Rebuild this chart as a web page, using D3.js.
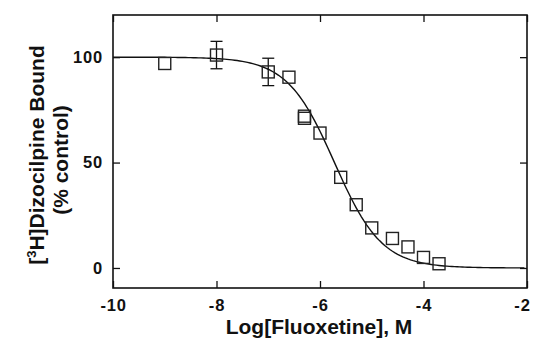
<!DOCTYPE html>
<html>
<head>
<meta charset="utf-8">
<script src="https://cdn.jsdelivr.net/npm/d3@7"></script>
<style>
  body { margin: 0; background: #fff; }
  svg text { font-family: "Liberation Sans", Arial, sans-serif; font-weight: bold; fill: #111; }
</style>
</head>
<body>
<svg width="533" height="345"></svg>
<script>
// Data
const logConc = [-9, -8, -7, -6.6, -6.3, -6.3, -6, -5.6, -5.3, -5, -4.6, -4.3, -4, -3.7];
const bound   = [97, 101, 93, 90.5, 72, 71, 64, 43, 30, 19, 14, 10, 5, 2];
const errBar  = [0, 6.5, 6.5, 0, 0, 0, 0, 0, 0, 0, 0, 0, 0, 0];

const xTicks = [-10, -8, -6, -4, -2];
const yTicks = [0, 50, 100];

// fitted curve params (one-site competition)
const fitTop = 100, fitBottom = 0, fitLogIC50 = -5.72, fitHill = 0.95;

const svg = d3.select("svg");

const x = d3.scaleLinear().domain([-10, -2]).range([113, 527]);
const y = d3.scaleLinear().domain([-9.5, 120]).range([288, 15]);

// frame
svg.append("rect")
    .attr("x", 113).attr("y", 15)
    .attr("width", 527 - 113).attr("height", 288 - 15)
    .attr("fill", "none").attr("stroke", "#111").attr("stroke-width", 1.6);

// axes (ticks point inward)
const fmt = d => d;
const xAx = svg.append("g")
    .attr("transform", "translate(0,288)")
    .call(d3.axisBottom(x).tickValues(xTicks).tickSizeInner(-7).tickSizeOuter(0).tickPadding(11).tickFormat(fmt))
    .call(g => g.select(".domain").remove());
svg.append("g")
    .attr("transform", "translate(0,15)")
    .call(d3.axisTop(x).tickValues(xTicks).tickSizeInner(-7).tickSizeOuter(0).tickFormat(""))
    .call(g => g.select(".domain").remove());
svg.append("g")
    .attr("transform", "translate(113,0)")
    .call(d3.axisLeft(y).tickValues(yTicks).tickSizeInner(-7).tickSizeOuter(0).tickPadding(10))
    .call(g => g.select(".domain").remove());
svg.append("g")
    .attr("transform", "translate(527,0)")
    .call(d3.axisRight(y).tickValues(yTicks).tickSizeInner(-7).tickSizeOuter(0).tickFormat(""))
    .call(g => g.select(".domain").remove());

svg.selectAll(".tick line").attr("stroke", "#111").attr("stroke-width", 1.3);
svg.selectAll(".tick text").style("font-size", "16.5px").style("letter-spacing", "0.8px").attr("fill", "#111");
// last x label sits against the right edge
xAx.selectAll(".tick text").filter(d => d === -2).attr("dx", -5);

// fitted curve
const curveX = d3.range(-10, -2.001, 0.05);
const hill = v => fitBottom + (fitTop - fitBottom) / (1 + Math.pow(10, (v - fitLogIC50) * fitHill));
svg.append("path")
    .datum(curveX)
    .attr("fill", "none").attr("stroke", "#111").attr("stroke-width", 1.4)
    .attr("d", d3.line().x(d => x(d)).y(d => y(hill(d))));

const pts = logConc.map((c, i) => ({ c: c, v: bound[i], e: errBar[i] }));

// error bars
const eb = svg.selectAll(".eb").data(pts.filter(d => d.e > 0)).enter().append("g")
    .attr("stroke", "#111").attr("stroke-width", 1.3);
eb.append("line").attr("x1", d => x(d.c)).attr("x2", d => x(d.c))
    .attr("y1", d => y(d.v + d.e)).attr("y2", d => y(d.v - d.e));
eb.append("line").attr("x1", d => x(d.c) - 6).attr("x2", d => x(d.c) + 6)
    .attr("y1", d => y(d.v + d.e)).attr("y2", d => y(d.v + d.e));
eb.append("line").attr("x1", d => x(d.c) - 6).attr("x2", d => x(d.c) + 6)
    .attr("y1", d => y(d.v - d.e)).attr("y2", d => y(d.v - d.e));

// squares
svg.selectAll(".pt").data(pts).enter().append("rect")
    .attr("x", d => x(d.c) - 6).attr("y", d => y(d.v) - 6)
    .attr("width", 12).attr("height", 12)
    .attr("fill", "none").attr("stroke", "#222").attr("stroke-width", 1.4);

// axis titles
svg.append("text")
    .attr("x", 319).attr("y", 334)
    .attr("text-anchor", "middle")
    .style("font-size", "21px")
    .text("Log[Fluoxetine], M");

const yt = svg.append("text")
    .attr("transform", "translate(44,155) rotate(-90)")
    .attr("text-anchor", "middle")
    .style("font-size", "21px");
yt.append("tspan").text("[");
yt.append("tspan").attr("dy", -8).style("font-size", "13px").text("3");
yt.append("tspan").attr("dy", 8).text("H]Dizocilpine Bound");

svg.append("text")
    .attr("transform", "translate(68,160) rotate(-90)")
    .attr("text-anchor", "middle")
    .style("font-size", "21px")
    .text("(% control)");
</script>
</body>
</html>
